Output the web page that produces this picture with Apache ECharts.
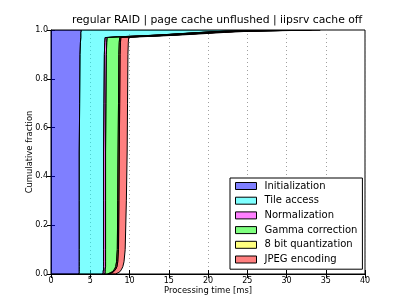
<!DOCTYPE html>
<html>
<head>
<meta charset="utf-8">
<script src="https://cdn.jsdelivr.net/npm/echarts@6/dist/echarts.min.js"></script>
<style>html,body{margin:0;padding:0;background:#fff}#c{width:407px;height:305px}</style>
</head>
<body>
<div id="c"></div>
<script>
// Cumulative fraction levels (y) and the cumulative end time (ms) of each stage at that level
const fractions = [0, 0.005, 0.01, 0.02, 0.03, 0.05, 0.1, 0.3, 0.5, 0.7, 0.9, 0.95, 0.969, 0.972, 0.976, 0.98, 0.985, 0.99, 0.995, 1.0];
const initEnd  = [3.55, 3.6, 3.6, 3.6, 3.6, 3.6, 3.6, 3.6, 3.6, 3.65, 3.7, 3.75, 3.8, 3.8, 3.8, 3.8, 3.8, 3.8, 3.85, 3.85];
const tileEnd  = [6.6, 6.65, 6.65, 6.7, 6.7, 6.7, 6.7, 6.7, 6.7, 6.75, 6.8, 6.85, 6.9, 8.5, 11.5, 14, 16.5, 19, 22, 31];
const normEnd  = [6.85, 6.9, 6.9, 6.9, 6.95, 6.95, 6.95, 6.95, 6.95, 7.0, 7.05, 7.1, 7.15, 8.8, 11.8, 14.3, 16.8, 19.3, 22.4, 31.4];
const gammaEnd = [7.2, 7.6, 7.85, 8.1, 8.25, 8.35, 8.45, 8.5, 8.55, 8.6, 8.65, 8.7, 8.75, 10.2, 13.2, 15.7, 18.3, 20.9, 24, 33];
const quantEnd = [7.35, 7.75, 8.0, 8.25, 8.4, 8.5, 8.6, 8.65, 8.7, 8.75, 8.8, 8.85, 8.9, 10.4, 13.4, 15.9, 18.5, 21.1, 24.2, 33.2];
const jpegEnd  = [8.2, 8.55, 8.8, 9.0, 9.15, 9.3, 9.45, 9.6, 9.7, 9.75, 9.8, 9.85, 9.9, 11.3, 14.3, 16.8, 19.5, 22.1, 25.3, 34.3];
const startTime = [0, 0, 0, 0, 0, 0, 0, 0, 0, 0, 0, 0, 0, 0, 0, 0, 0, 0, 0, 0];

const stageNames = ['Initialization', 'Tile access', 'Normalization', 'Gamma correction', '8 bit quantization', 'JPEG encoding'];
const stageColors = ['rgba(0,0,255,0.5)', 'rgba(0,255,255,0.5)', 'rgba(255,0,255,0.5)', 'rgba(0,255,0,0.5)', 'rgba(255,255,0,0.5)', 'rgba(255,0,0,0.5)'];
const xTicks = [0, 5, 10, 15, 20, 25, 30, 35, 40];
const yTicks = [0.0, 0.2, 0.4, 0.6, 0.8, 1.0];

const bounds = [startTime, initEnd, tileEnd, normEnd, gammaEnd, quantEnd, jpegEnd];
const FONT = 'DejaVu Sans';

function polygonData(left, right) {
  const pts = [];
  for (let i = 0; i < fractions.length; i++) pts.push([left[i], fractions[i]]);
  for (let i = fractions.length - 1; i >= 0; i--) pts.push([right[i], fractions[i]]);
  return pts;
}

const series = stageNames.map((name, k) => {
  const pts = polygonData(bounds[k], bounds[k + 1]);
  return {
    type: 'custom',
    name: name,
    xAxisIndex: 0, yAxisIndex: 0,
    clip: true,
    itemStyle: { color: stageColors[k], borderColor: '#000', borderWidth: 1 },
    data: pts,
    encode: { x: 0, y: 1 },
    renderItem: function (params, api) {
      if (params.dataIndex !== 0) return null;
      const coords = pts.map(p => api.coord(p));
      return {
        type: 'polygon',
        shape: { points: coords },
        style: { fill: stageColors[k], stroke: '#000', lineWidth: 1 }
      };
    },
    silent: true,
    animation: false
  };
});

const xMin = xTicks[0], xMax = xTicks[xTicks.length - 1];
const yMin = yTicks[0], yMax = yTicks[yTicks.length - 1];

const chart = echarts.init(document.getElementById('c'), null, { renderer: 'canvas' });
chart.setOption({
  animation: false,
  backgroundColor: '#fff',
  textStyle: { fontFamily: FONT },
  title: {
    text: 'regular RAID | page cache unflushed | iipsrv cache off',
    left: 72, top: 15, padding: 0,
    textStyle: { fontFamily: FONT, fontSize: 10.8, fontWeight: 'normal', color: '#000' }
  },
  grid: { left: 51, top: 30, right: 42, bottom: 31, show: true, borderColor: '#000', borderWidth: 1, backgroundColor: 'transparent' },
  legend: {
    orient: 'vertical', left: 230, top: 178,
    padding: [3, 5, 4.7, 5],
    itemGap: 4.7, itemWidth: 21, itemHeight: 7,
    backgroundColor: '#fff', borderColor: '#000', borderWidth: 1, borderRadius: 0,
    icon: 'rect',
    textStyle: { fontFamily: FONT, fontSize: 10, color: '#000', padding: [0, 0, 0, 3] },
    data: stageNames.map((n, k) => ({ name: n, itemStyle: { color: stageColors[k], borderColor: '#000', borderWidth: 1 } }))
  },
  xAxis: [{
    type: 'value', min: xMin, max: xMax, interval: 5, position: 'bottom',
    name: 'Processing time [ms]', nameLocation: 'middle', nameGap: 13, nameMoveOverlap: false,
    nameTextStyle: { fontFamily: FONT, fontSize: 8.4, color: '#000' },
    axisLine: { show: true, lineStyle: { color: '#000', width: 1 } },
    axisTick: { show: true, inside: true, length: 4, lineStyle: { color: '#000' } },
    axisLabel: { margin: 3, fontFamily: FONT, fontSize: 8, color: '#000' },
    splitLine: { show: true, lineStyle: { color: '#888', width: 0.8, type: [1, 3] } }
  }, {
    type: 'value', min: xMin, max: xMax, interval: 5, position: 'top',
    axisLine: { show: false }, axisLabel: { show: false }, splitLine: { show: false },
    axisTick: { show: true, inside: true, length: 4, lineStyle: { color: '#000' } }
  }],
  yAxis: [{
    type: 'value', min: yMin, max: yMax, interval: 0.2, position: 'left',
    name: 'Cumulative fraction', nameLocation: 'middle', nameGap: 17, nameRotate: 90, nameMoveOverlap: false,
    nameTextStyle: { fontFamily: FONT, fontSize: 8.4, color: '#000' },
    axisLine: { show: true, lineStyle: { color: '#000', width: 1 } },
    axisTick: { show: true, inside: true, length: 4, lineStyle: { color: '#000' } },
    axisLabel: { margin: 3, fontFamily: FONT, fontSize: 8, color: '#000', formatter: v => v.toFixed(1) },
    splitLine: { show: false }
  }, {
    type: 'value', min: yMin, max: yMax, interval: 0.2, position: 'right',
    axisLine: { show: false }, axisLabel: { show: false }, splitLine: { show: false },
    axisTick: { show: true, inside: true, length: 4, lineStyle: { color: '#000' } }
  }],
  series: series
});
</script>
</body>
</html>
